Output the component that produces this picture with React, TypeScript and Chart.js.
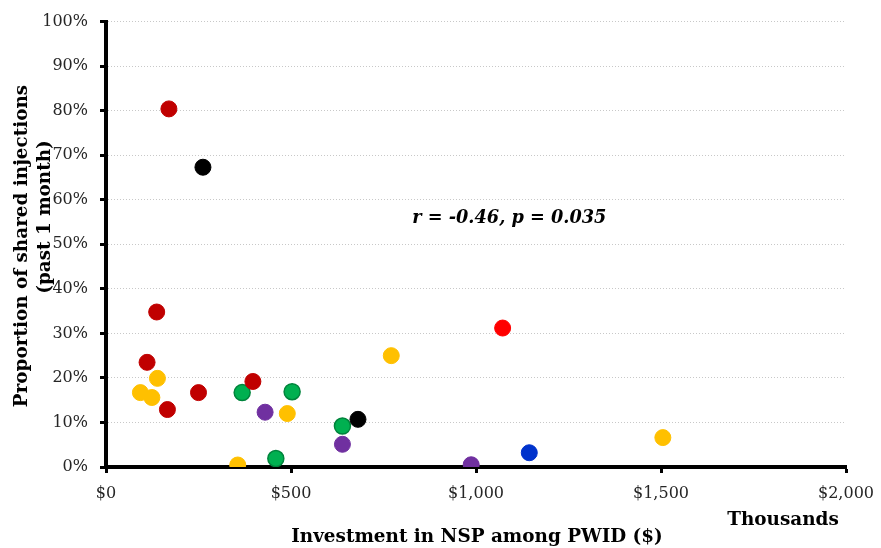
import React, { useEffect, useRef } from "react";
import { Chart, registerables } from "chart.js";

Chart.register(...registerables);

// Investment (thousands $), proportion of shared injections (%)
const darkRedPoints: [number, number][] = [
  [170, 80.4], [137, 34.8], [111, 23.5], [166, 12.9], [250, 16.7], [397, 19.2],
];
const redPoints: [number, number][] = [[1072, 31.2]];
const blackPoints: [number, number][] = [[262, 67.3], [681, 10.7]];
const yellowPoints: [number, number][] = [
  [93, 16.7], [124, 15.6], [139, 19.9], [490, 12.0], [356, 0.45], [771, 25.0], [1505, 6.6],
];
const greenPoints: [number, number][] = [[368, 16.7], [503, 16.9], [639, 9.2], [459, 1.9]];
const purplePoints: [number, number][] = [[430, 12.3], [639, 5.1], [987, 0.5]];
const bluePoints: [number, number][] = [[1144, 3.2]];

const xTitle = "Investment in NSP among PWID ($)";
const xUnitLabel = "Thousands";
const yTitleLine1 = "Proportion of shared injections";
const yTitleLine2 = "(past 1 month)";
const annotation = "r = -0.46, p = 0.035";
const annotationAt: [number, number] = [1090, 55.8];

const FONT = '"DejaVu Serif", Georgia, serif';

function toXY(pts: [number, number][]) {
  return pts.map(([x, y]) => ({ x, y }));
}

const textPlugin = {
  id: "customTexts",
  afterDraw(chart: any) {
    const ctx = chart.ctx as CanvasRenderingContext2D;
    const xs = chart.scales.x;
    const ys = chart.scales.y;
    ctx.save();
    ctx.fillStyle = "#000";
    ctx.textAlign = "center";
    ctx.textBaseline = "middle";
    ctx.font = `bold 18.4px ${FONT}`;
    ctx.fillText(xTitle, 477, 537);
    ctx.fillText(xUnitLabel, 783, 520);

    ctx.save();
    ctx.translate(22, 246);
    ctx.rotate(-Math.PI / 2);
    ctx.fillText(yTitleLine1, 0, 0);
    ctx.restore();
    ctx.save();
    ctx.translate(45, 217);
    ctx.rotate(-Math.PI / 2);
    ctx.fillText(yTitleLine2, 0, 0);
    ctx.restore();

    ctx.font = `italic bold 17.7px ${FONT}`;
    ctx.fillText(annotation, xs.getPixelForValue(annotationAt[0]), ys.getPixelForValue(annotationAt[1]));
    ctx.restore();
  },
};

function makeDataset(label: string, pts: [number, number][], color: string, border?: string) {
  return {
    label,
    data: toXY(pts),
    backgroundColor: color,
    borderColor: border || color,
    borderWidth: border ? 1.5 : 1,
    pointRadius: 8,
    pointHoverRadius: 8,
  };
}

export default function App() {
  const ref = useRef<HTMLCanvasElement | null>(null);
  useEffect(() => {
    if (!ref.current) return;
    const chart = new Chart(ref.current, {
      type: "scatter",
      data: {
        datasets: [
          makeDataset("darkred", darkRedPoints, "#C00000"),
          makeDataset("red", redPoints, "#FF0000"),
          makeDataset("black", blackPoints, "#000000"),
          makeDataset("yellow", yellowPoints, "#FFC000"),
          makeDataset("green", greenPoints, "#00B050", "#00843C"),
          makeDataset("purple", purplePoints, "#7030A0"),
          makeDataset("blue", bluePoints, "#0033CC"),
        ],
      },
      options: {
        responsive: false,
        animation: false,
        devicePixelRatio: 1,
        layout: { padding: { left: 0, top: 19, right: 35, bottom: 0 } },
        plugins: { legend: { display: false }, tooltip: { enabled: false } },
        scales: {
          x: {
            type: "linear",
            min: 0,
            max: 2000,
            afterFit: (s: any) => {
              s.height = 81;
              s.paddingLeft = 0;
              s.paddingRight = 0;
            },
            ticks: {
              stepSize: 500,
              padding: 11,
              color: "#262626",
              font: { family: FONT, size: 16 },
              callback: (v: any) => "$" + Number(v).toLocaleString("en-US"),
            },
            grid: {
              drawOnChartArea: false,
              drawTicks: true,
              tickLength: 6,
              tickColor: "#000",
              tickWidth: 3,
              color: "#000",
            },
            border: { display: true, color: "#000", width: 4 },
          },
          y: {
            type: "linear",
            min: 0,
            max: 100,
            afterFit: (s: any) => {
              s.width = 106;
            },
            ticks: {
              stepSize: 10,
              padding: 12,
              color: "#262626",
              font: { family: FONT, size: 16 },
              callback: (v: any) => v + "%",
            },
            grid: {
              drawOnChartArea: true,
              drawTicks: true,
              tickLength: 6,
              tickColor: "#000",
              tickWidth: 3,
              color: "#C8C8C8",
              lineWidth: 1,
            },
            border: { display: true, color: "#000", width: 4, dash: [1, 2] },
          },
        },
      },
      plugins: [textPlugin],
    });
    return () => chart.destroy();
  }, []);
  return (
    <div style={{ position: "fixed", left: 0, top: 0, width: 881, height: 548, background: "#fff" }}>
      <canvas ref={ref} width={881} height={548} style={{ width: 881, height: 548 }} />
    </div>
  );
}
